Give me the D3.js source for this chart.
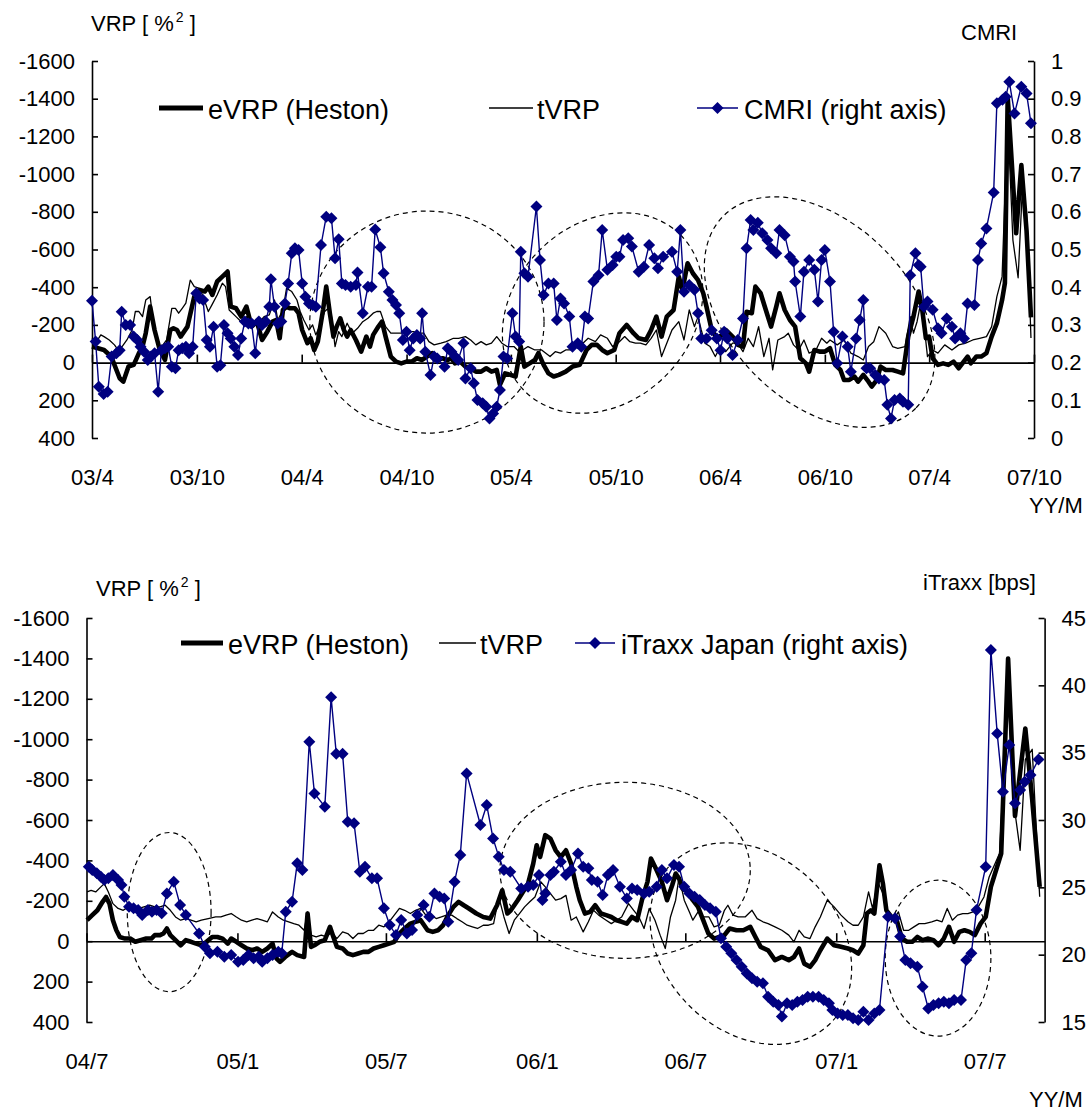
<!DOCTYPE html>
<html><head><meta charset="utf-8">
<script src="https://cdn.jsdelivr.net/npm/d3@7"></script>
<style>
body{margin:0;background:#fff}
text{font-family:"Liberation Sans",Arial,sans-serif;fill:#000}
</style>
</head><body>
<svg id="c" width="1091" height="1113"></svg>
<script>
// ---------- DATA (x = weeks since panel start date) ----------
const topTickLabels = ["03/4","03/10","04/4","04/10","05/4","05/10","06/4","06/10","07/4","07/10"];
const topTickDates  = ["2003-04-01","2003-10-01","2004-04-01","2004-10-01","2005-04-01","2005-10-01","2006-04-01","2006-10-01","2007-04-01","2007-10-01"];
const botTickLabels = ["04/7","05/1","05/7","06/1","06/7","07/1","07/7"];
const botTickDates  = ["2004-07-01","2005-01-01","2005-07-01","2006-01-01","2006-07-01","2007-01-01","2007-07-01"];
const vrpTicks = [-1600,-1400,-1200,-1000,-800,-600,-400,-200,0,200,400];
const cmriTicks = [0,0.1,0.2,0.3,0.4,0.5,0.6,0.7,0.8,0.9,1];
const itraxxTicks = [15,20,25,30,35,40,45];

const evrpTop = [[0,-85],[3,-67],[4.8,-32],[6.9,83],[7.8,101],[9.1,21],[10.4,12],[11.7,-50],[12.6,-85],[13.4,-156],[14.5,-297],[15.6,-173],[16.9,-67],[18.2,-14],[19.5,-173],[20.3,-182],[21.2,-173],[22.1,-138],[23.8,-191],[25.5,-350],[26.8,-385],[28.1,-377],[29,-403],[30,-359],[31.2,-430],[32.5,-456],[33.8,-483],[34.6,-297],[35.9,-288],[37.2,-244],[38.5,-297],[39.8,-191],[41.1,-217],[42.4,-120],[43.7,-164],[45,-217],[45.9,-226],[46.8,-129],[47.6,-279],[48.5,-297],[49.4,-288],[50.6,-288],[51.5,-262],[52.4,-173],[53.7,-103],[54.5,-129],[55.4,-67],[56.3,-111],[57.6,-279],[58.4,-403],[59.3,-262],[60.2,-138],[61,-191],[61.9,-235],[62.8,-173],[63.6,-138],[64.5,-173],[65.8,-120],[67.1,-58],[68.4,-138],[69.3,-85],[70.1,-147],[71.4,-191],[72.3,-217],[73.2,-138],[74.5,-32],[75.8,-5],[77.1,4],[78.4,-5],[79.7,-5],[81,-23],[82.3,-14],[83.5,-32],[84.8,-50],[86.1,-14],[87.4,-23],[88.7,-14],[89.6,-23],[90.5,4],[91.8,-5],[93.1,21],[94.4,30],[95.7,48],[97,48],[98.3,30],[99.6,48],[100.9,39],[101.7,118],[103,57],[104.3,65],[105.6,74],[106.9,-85],[107.8,21],[109.1,4],[110.4,-14],[111.3,-50],[112.6,12],[113.8,57],[115.1,74],[116.4,65],[118.1,48],[119.8,21],[121.6,12],[123.3,-67],[124.6,-94],[125.9,-94],[127.2,-67],[128.5,-50],[130.2,-67],[131.5,-156],[133.3,-200],[135,-156],[136.3,-129],[138.1,-120],[139.4,-173],[140.7,-244],[142,-138],[143.3,-244],[145,-279],[146.3,-456],[147.2,-385],[148.5,-527],[149.8,-474],[151.1,-438],[152.4,-368],[153.2,-297],[154.5,-173],[155.8,-129],[157.1,-147],[158,-173],[159.7,-138],[161,-94],[162.3,-85],[163.2,-270],[164.5,-262],[165.4,-403],[166.7,-368],[168,-279],[169.3,-191],[170.6,-297],[171.4,-368],[172.7,-279],[174,-226],[175.3,-191],[176.6,-23],[178,4],[178.8,48],[180.1,-67],[181.4,-58],[182.7,-58],[184,-76],[185.3,12],[186.6,39],[187.5,92],[188.8,92],[190.1,74],[191,101],[192.3,65],[193.6,101],[194.4,127],[195.7,92],[196.6,21],[197.9,39],[199.6,39],[200.9,48],[202.2,57],[203.5,-138],[204.8,-244],[206.1,-377],[207,-279],[207.9,-129],[208.7,-138],[209.6,-23],[210.9,12],[212.2,4],[213.5,12],[214.8,-5],[216.1,30],[217,4],[218.3,-32],[219.1,4],[220.5,-32],[221.7,-32],[223,-50],[224.3,-138],[225.6,-209],[226.9,-332],[227.6,-421],[228.3,-1410],[230.4,-686],[231.7,-1048],[233,-700],[234.1,-240]];

const tvrpTop = [[0,-129],[0.9,-103],[2.2,-147],[3,-138],[4.3,-120],[5.6,-94],[6.5,-67],[7.5,-85],[8.7,-120],[10,-173],[10.8,-271],[11.7,-271],[12.6,-244],[13.4,-332],[14.5,-350],[15.2,-226],[16,-156],[16.9,-85],[17.7,-94],[18.6,-120],[19.9,-288],[20.8,-288],[21.6,-262],[22.5,-288],[23.4,-315],[24.5,-438],[25.5,-403],[26.8,-394],[27.7,-350],[29,-271],[29.9,-306],[31.2,-359],[32.5,-421],[33.3,-403],[34.2,-279],[35.9,-244],[37.2,-217],[38.5,-244],[39.8,-209],[41.1,-200],[42.9,-244],[44.2,-253],[45.5,-332],[46.3,-226],[47.6,-279],[48.5,-394],[49.8,-377],[51.1,-332],[51.9,-271],[52.8,-226],[54.1,-173],[55,-200],[55.8,-147],[56.7,-191],[58,-271],[58.9,-288],[59.7,-244],[60.6,-85],[61.5,-164],[62.3,-138],[63.6,-209],[64.9,-156],[66.2,-182],[67.5,-217],[68.8,-235],[70.1,-262],[71,-271],[71.9,-271],[73.2,-191],[74.5,-156],[75.8,-156],[77.1,-156],[78.4,-164],[80.1,-164],[81.4,-156],[82.7,-156],[84,-111],[85.3,-94],[87,-103],[88.3,-111],[90.1,-129],[91.4,-129],[93.1,-138],[94.4,-120],[95.7,-94],[97,-111],[98.3,-94],[99.6,-103],[100.9,-138],[102.2,-103],[103.5,-85],[105.2,-85],[106.5,-58],[107.4,-67],[108.7,-85],[110.4,-67],[112.1,-67],[114.2,-32],[115.5,-58],[116.8,-50],[118.1,-67],[119.4,-67],[120.7,-85],[122.4,-103],[123.7,-129],[125.5,-111],[126.8,-147],[128.5,-129],[129.8,-85],[131.1,-103],[132.8,-138],[134.1,-111],[135.5,-103],[136.7,-103],[138.1,-94],[139.4,-129],[140.7,-173],[142,-32],[143.3,-103],[144.6,-173],[146.3,-217],[147.6,-120],[148.9,-279],[150.2,-191],[151.1,-244],[151.9,-173],[152.8,-103],[154.1,-85],[155.4,-32],[156.7,-85],[158,-58],[159.7,-103],[161,-103],[162.3,-58],[163.6,-129],[164.9,-85],[166.2,-191],[167.5,-32],[168.8,-129],[169.7,39],[171,-120],[172.7,-138],[173.6,-156],[174.9,-94],[176.2,-67],[177.5,-120],[178.8,-50],[180.5,-67],[181.9,-129],[183.2,-103],[184,-120],[185.8,-94],[187.5,-120],[189.2,-50],[191,-32],[192.3,-14],[193.6,-85],[194.9,-111],[196.2,-191],[197.9,-156],[199.6,-85],[200.9,-76],[202.7,-85],[204,-244],[204.8,-156],[205.7,-217],[206.6,-315],[207.4,-209],[208.3,-32],[209.6,-67],[210.9,-50],[212.6,-94],[214.4,-67],[216.1,-94],[217.8,-103],[219.6,-120],[221.3,-129],[223,-138],[224.3,-191],[225.6,-350],[226.9,-456],[228.3,-1300],[229.6,-650],[230.9,-450],[231.9,-900],[233,-800],[234.1,-130]];

const cmriTop = [[0,0.364],[0.9,0.256],[1.7,0.136],[2.9,0.117],[3.9,0.123],[4.9,0.216],[6.1,0.225],[6.9,0.233],[7.4,0.335],[8.4,0.300],[9.5,0.300],[10.4,0.269],[11.3,0.260],[12.1,0.242],[13,0.229],[13.9,0.207],[14.7,0.216],[15.6,0.225],[16.5,0.123],[17.3,0.233],[18.2,0.238],[19,0.242],[19.9,0.189],[20.8,0.185],[21.6,0.233],[22.5,0.238],[23.4,0.242],[24.2,0.225],[25.1,0.242],[26,0.384],[26.8,0.370],[27.7,0.366],[28.6,0.260],[29.4,0.242],[30.3,0.295],[31.2,0.189],[32,0.193],[32.9,0.300],[33.8,0.278],[34.6,0.264],[35.5,0.242],[36.4,0.220],[37.2,0.264],[38.1,0.309],[39,0.304],[39.8,0.304],[40.7,0.225],[41.6,0.309],[42.4,0.300],[43.3,0.309],[44.2,0.348],[44.6,0.421],[45.5,0.348],[46.3,0.304],[47.2,0.309],[48.1,0.357],[48.9,0.410],[49.8,0.490],[50.6,0.503],[51.5,0.499],[52.4,0.410],[53.2,0.375],[54.1,0.357],[55,0.353],[55.8,0.348],[57.1,0.512],[58.4,0.587],[59.7,0.583],[60.6,0.477],[61.5,0.527],[62.3,0.410],[63.2,0.406],[64.5,0.401],[65.8,0.406],[66.2,0.439],[67.5,0.331],[68.8,0.401],[69.7,0.401],[70.6,0.553],[71.9,0.506],[72.7,0.437],[74,0.388],[74.9,0.366],[75.8,0.353],[76.6,0.331],[77.5,0.260],[78.4,0.282],[79.2,0.233],[80.1,0.264],[81,0.273],[81.8,0.264],[82.3,0.331],[83.1,0.229],[84.4,0.167],[85.3,0.216],[86.1,0.211],[87.9,0.189],[88.7,0.238],[89.6,0.229],[90.5,0.216],[91.3,0.207],[92.6,0.251],[93.1,0.158],[94.4,0.185],[95.2,0.145],[96.1,0.101],[97.4,0.092],[98.3,0.083],[99.1,0.052],[100,0.065],[100.9,0.083],[101.7,0.127],[102.6,0.216],[103.5,0.211],[104.8,0.331],[105.6,0.269],[106.5,0.256],[106.9,0.494],[107.8,0.437],[108.7,0.428],[110.8,0.614],[111.7,0.472],[112.6,0.379],[113.8,0.410],[115.1,0.410],[115.9,0.313],[116.8,0.370],[117.7,0.357],[119,0.322],[119.8,0.242],[121.1,0.251],[122,0.242],[122.9,0.322],[123.7,0.317],[125,0.415],[126.3,0.432],[127.2,0.552],[128.5,0.446],[129.8,0.459],[130.7,0.481],[131.5,0.481],[132.4,0.525],[133.7,0.530],[134.6,0.508],[136.3,0.441],[137.6,0.454],[138.9,0.512],[140.2,0.477],[141.1,0.450],[142.4,0.481],[144.6,0.494],[145.9,0.441],[146.7,0.552],[147.6,0.388],[148.9,0.406],[150.2,0.393],[151.1,0.331],[151.9,0.264],[153.2,0.264],[154.5,0.286],[155.8,0.264],[156.7,0.233],[157.6,0.282],[158.4,0.264],[159.7,0.220],[161,0.260],[162.3,0.317],[163.2,0.503],[164.2,0.578],[164.9,0.552],[166,0.571],[167.1,0.543],[168.4,0.525],[169.3,0.503],[170.6,0.490],[171.4,0.552],[172.7,0.538],[174,0.481],[174.9,0.468],[175.3,0.415],[176.6,0.322],[177.5,0.441],[178.8,0.472],[180.1,0.446],[181,0.362],[181.9,0.472],[182.7,0.499],[184,0.415],[184.9,0.282],[185.8,0.198],[187.1,0.269],[188.4,0.242],[189.2,0.176],[190.5,0.264],[191.4,0.313],[192.3,0.366],[193.1,0.185],[194,0.185],[195.3,0.167],[196.2,0.158],[197.5,0.154],[198.3,0.088],[199.2,0.052],[200.1,0.101],[201.4,0.105],[202.2,0.096],[203.5,0.088],[204,0.432],[205.3,0.490],[206.1,0.459],[206.6,0.454],[207.4,0.348],[208.3,0.362],[209.6,0.340],[210.9,0.291],[211.8,0.278],[213.1,0.317],[214.4,0.295],[215.2,0.264],[216.5,0.278],[217.4,0.264],[218.3,0.357],[220,0.353],[220.9,0.472],[221.7,0.516],[223,0.556],[224.8,0.651],[225.6,0.888],[227,0.897],[227.8,0.905],[228.7,0.945],[230,0.861],[231.7,0.932],[233,0.914],[234.1,0.835]];

const evrpBot = [[0.1,-104],[1,-129],[1.9,-153],[2.8,-195],[3.4,-219],[4,-186],[4.6,-104],[5.2,-54],[5.8,-21],[6.7,-13],[7.6,-13],[8.5,3],[9.4,-5],[10.4,-13],[11.3,-13],[11.9,-30],[12.8,-30],[13.4,-38],[14,-63],[14.6,-30],[15.5,-5],[16.4,20],[17.3,-5],[18.2,3],[19.1,12],[20,20],[20.9,3],[21.9,-21],[22.8,-21],[23.7,-13],[24.6,12],[25.2,-13],[26.1,3],[27,20],[27.9,36],[28.8,45],[29.7,36],[30.6,53],[31.5,36],[32.4,12],[33.1,86],[33.7,102],[34.6,78],[35.8,53],[36.7,69],[37.9,78],[38.5,-137],[39.1,28],[39.7,20],[40.6,3],[41.5,-5],[42.4,-71],[43,-21],[43.6,28],[44.6,36],[45.5,61],[46.4,69],[47.3,61],[48.2,53],[49.1,53],[50,36],[50.9,28],[51.8,20],[52.7,12],[53.6,3],[54.5,-38],[55.4,-63],[56.4,-87],[57.3,-96],[58.2,-104],[59.4,-54],[60.3,-46],[61.2,-54],[62.1,-79],[63,-129],[63.9,-170],[64.8,-195],[65.7,-178],[66.6,-162],[67.9,-137],[69.1,-120],[70.3,-112],[71.5,-178],[72.4,-252],[73.3,-137],[73.9,-153],[75.1,-203],[76,-244],[76.9,-285],[77.8,-384],[78.4,-475],[79,-417],[79.9,-525],[80.8,-508],[81.7,-450],[82.6,-417],[83.5,-450],[84.4,-384],[85.3,-269],[85.9,-203],[86.8,-137],[87.7,-145],[88.6,-178],[89.6,-137],[90.5,-129],[91.4,-120],[92.3,-104],[93.2,-96],[94.1,-87],[95,-120],[95.9,-104],[96.8,-211],[97.7,-294],[98.3,-409],[99.3,-351],[100.2,-294],[101.1,-203],[102,-277],[102.6,-335],[103.2,-310],[103.8,-261],[104.7,-244],[105.6,-203],[106.5,-170],[107.4,-104],[108.3,-38],[109.3,-13],[110.2,-21],[111.1,-30],[112,-63],[113.2,-54],[114.4,-54],[115.6,-71],[116.5,-21],[117.4,28],[118.7,45],[119.9,94],[121.1,78],[122.3,94],[123.2,78],[124.1,36],[125,111],[126,127],[126.9,94],[127.8,45],[129,-13],[130.2,20],[131.4,28],[132.6,36],[133.5,45],[134.4,61],[135.3,20],[135.9,-137],[136.6,-153],[137.2,-137],[138.1,-376],[138.7,-285],[139.3,-153],[140.2,-120],[141.1,-104],[142,-13],[142.9,3],[143.8,3],[144.7,-21],[145.6,-5],[146.6,-13],[147.5,-5],[148.4,20],[149.3,-13],[150.2,-71],[151.1,3],[152,-46],[152.9,-54],[153.8,-46],[154.7,-30],[155.7,-87],[156.6,-120],[157.5,-269],[158.4,-351],[159.3,-434],[160.5,-1399],[161.7,-620],[163.5,-1053],[164.7,-700],[166,-269]];

const tvrpBot = [[0.1,-244],[0.8,-252],[1.6,-244],[2.5,-269],[3.1,-285],[3.8,-244],[4.6,-186],[5.5,-162],[6.4,-153],[7.3,-170],[8.2,-178],[9.1,-162],[10,-170],[11,-178],[11.9,-170],[12.8,-170],[13.7,-178],[14.6,-153],[15.5,-120],[16.4,-104],[17.3,-112],[18.2,-104],[19.1,-96],[20,-104],[21.2,-112],[22.5,-120],[23.4,-120],[24.3,-129],[25.2,-137],[26.1,-120],[27,-104],[27.9,-96],[28.8,-104],[29.7,-112],[30.6,-104],[31.5,-96],[32.4,-145],[33.4,-120],[34.3,-104],[35.2,-96],[36.1,-87],[37,-79],[37.9,-54],[38.5,-145],[39.1,-30],[40,-21],[40.9,-30],[41.8,-21],[42.7,-46],[43.6,-13],[44.6,-46],[45.5,-38],[46.4,-13],[47.3,-38],[48.2,-38],[49.1,-54],[50,-54],[50.9,-79],[51.8,-71],[52.7,-96],[53.6,-129],[54.5,-162],[55.4,-153],[56.4,-137],[57.3,-153],[58.2,-162],[59.1,-129],[60,-129],[60.9,-112],[61.8,-120],[62.7,-129],[63.6,-129],[64.5,-112],[65.4,-96],[66.3,-79],[67.2,-71],[68.1,-63],[69.1,-79],[70,-79],[70.9,-87],[71.8,-219],[72.7,-120],[73.6,-38],[74.5,-104],[75.4,-137],[76.3,-170],[77.2,-195],[78.1,-219],[79.1,-294],[79.9,-269],[80.8,-236],[81.7,-203],[82.6,-211],[83.5,-227],[84.4,-104],[85.3,-120],[86.5,-46],[87.4,-96],[88.3,-153],[89.2,-129],[90.5,-104],[91.4,-87],[92.3,-104],[93.2,-120],[94.4,-186],[95.3,-153],[96.2,-120],[97.1,-63],[98,-162],[99,-104],[99.9,-30],[100.8,36],[101.7,-120],[102.6,-203],[103.2,-318],[104.1,-203],[105,-145],[105.6,-104],[106.5,-145],[107.4,-120],[108.4,-120],[109.3,-71],[110.2,-79],[111.1,-153],[111.7,-178],[112.6,-129],[113.5,-120],[114.7,-120],[115.9,-153],[116.8,-112],[117.8,-96],[118.7,-87],[119.9,-71],[121.1,-54],[122.3,-30],[123.2,3],[124.1,-54],[125,-21],[126,-13],[126.9,-71],[127.8,-120],[129,-203],[130.2,-170],[131.4,-129],[132.6,-96],[133.5,-79],[134.4,-79],[135.3,-120],[136.2,-244],[136.9,-162],[137.8,-294],[138.7,-236],[139.6,-137],[140.5,-104],[141.4,-145],[142.3,-54],[143.2,-54],[144.1,-71],[145,-87],[146,-87],[147.2,-96],[148.1,-104],[149,-96],[149.9,-162],[150.8,-104],[151.7,-129],[152.6,-137],[153.5,-137],[154.4,-145],[155.3,-170],[156.3,-219],[157.2,-318],[158.1,-376],[159,-434],[160.5,-1250],[161.4,-700],[162.6,-450],[163.5,-900],[164.7,-950],[166,-220]];

const itraxxBot = [[0.4,26.53],[1,26.29],[1.8,26.04],[2.5,25.79],[3.1,25.54],[3.8,25.67],[4.6,25.91],[5.5,25.54],[6.1,25.17],[6.6,24.31],[7.4,23.56],[8.2,23.44],[9,23.32],[9.7,22.94],[10.7,23.32],[11.4,23.19],[12.2,23.32],[13.1,23.07],[14,24.55],[15.2,25.42],[16.3,23.69],[17.3,22.94],[19.6,21.58],[20.6,20.59],[21.5,20.1],[22.8,20.22],[24,19.85],[25.2,19.97],[26.4,19.48],[27.3,19.6],[28.2,19.97],[29.1,19.73],[30,19.85],[30.6,19.48],[31.5,19.73],[32.4,19.97],[33.4,20.22],[34,20.1],[34.7,23.19],[35.8,23.93],[36.7,26.78],[37.6,26.29],[38.8,35.81],[39.7,31.97],[41.5,30.99],[42.6,39.11],[43.5,34.92],[44.6,34.92],[45.5,29.87],[46.6,29.75],[47.6,26.16],[48.5,26.53],[49.7,25.67],[50.6,25.67],[51.8,23.44],[52.8,22.2],[53.9,21.46],[54.8,22.57],[55.8,21.58],[56.7,21.83],[57.6,22.94],[58.7,23.69],[59.7,22.82],[60.6,24.55],[61.5,24.31],[62.3,24.18],[63,22.45],[64.1,25.42],[65.1,27.4],[66.2,33.46],[68.6,29.63],[69.7,31.11],[70.8,28.63],[71.8,27.28],[72.7,26.29],[73.8,26.16],[75.7,24.92],[76.9,25.05],[77.8,25.17],[78.8,25.91],[79.4,24.06],[79.9,24.55],[80.8,25.91],[81.4,26.16],[82.6,26.9],[83.5,25.91],[84.4,26.29],[85.6,27.52],[86.5,26.53],[87.4,26.41],[88,25.54],[89,25.42],[89.9,24.43],[90.8,25.91],[91.7,26.29],[92.9,25.05],[94.1,24.18],[95,24.92],[95.9,24.8],[97.1,24.55],[98,24.67],[99.3,25.05],[100.2,26.29],[101.1,25.67],[102.3,26.66],[103.2,26.53],[104.1,25.05],[105,24.55],[105.9,24.31],[106.8,24.06],[107.7,23.69],[108.6,23.44],[109.6,23.19],[110.5,21.21],[111.4,20.59],[112.3,20.1],[113.2,19.6],[114.1,19.11],[115,18.61],[115.9,18.24],[116.8,17.99],[117.8,17.87],[118.7,16.88],[119.6,16.51],[120.5,16.26],[121.1,15.4],[122,16.39],[122.9,16.26],[123.8,16.51],[124.7,16.63],[125.6,16.88],[126.5,16.88],[127.5,16.88],[128.4,16.63],[129.3,16.39],[129.9,15.89],[130.8,15.64],[131.7,15.52],[132.6,15.52],[133.5,15.27],[134.4,15.15],[135.3,15.77],[136.2,15.15],[137.2,15.64],[138.1,15.89],[139.6,22.82],[140.8,22.7],[141.7,21.34],[142.6,19.6],[143.5,19.36],[144.7,19.11],[145.6,17.62],[146.6,16.01],[147.5,16.26],[148.4,16.39],[149.3,16.51],[150.2,16.39],[151.1,16.63],[152.3,16.63],[153.2,19.6],[154.1,20.1],[155,23.32],[156.6,26.53],[157.5,42.62],[158.6,36.43],[159.6,32.1],[160.7,35.57],[161.7,31.24],[162.6,32.23],[163.4,32.84],[164.4,33.34],[165.8,34.5]];

// dashed annotation ellipses: centre (week, VRP value), semi-axes (weeks, VRP units), rotation (deg)
const ellipsesTop = [
  {w:83.5, v:-215, rw:29.2, rv:589, rot:0},
  {w:127.3, v:-263, rw:27.5, rv:472, rot:-45},
  {w:181.4, v:-268, rw:33.9, rv:477, rot:45}
];
const ellipsesBot = [
  {w:14.4, v:-144, rw:7.3, rv:394, rot:0},
  {w:93.8, v:-351, rw:21.8, rv:436, rot:0},
  {w:115.7, v:12, rw:19.6, rv:433, rot:45},
  {w:148.3, v:84, rw:9.2, rv:386, rot:0}
];

// ---------- DRAWING ----------
const svg = d3.select("#c");
const DAY = 864e5;
const NAVY = "#000080";
const FONT = 22, LFONT = 27;
const FAM = '"Liberation Sans",Arial,sans-serif';
const diamond = "M0,-6L6,0L0,6L-6,0Z";

function panel(cfg){
  const g = svg.append("g");
  const t0 = new Date(cfg.start + "T00:00:00Z"), t1 = new Date(cfg.end + "T00:00:00Z");
  const x = d3.scaleUtc().domain([t0, t1]).range([cfg.x0, cfg.x1]);
  const xw = w => x(new Date(t0.getTime() + w * 7 * DAY));
  const y = d3.scaleLinear().domain([-1600, 400]).range([cfg.y0, cfg.y1]);
  const y2 = d3.scaleLinear().domain(cfg.rDomain).range([cfg.y1, cfg.y0]);

  // ellipses
  cfg.ellipses.forEach(e => {
    const cx = xw(e.w), cy = y(e.v);
    const rx = xw(e.w + e.rw) - cx, ry = Math.abs(y(e.v + e.rv) - cy);
    g.append("ellipse").attr("rx", rx).attr("ry", ry)
      .attr("transform", `translate(${cx},${cy}) rotate(${e.rot})`)
      .attr("fill", "none").attr("stroke", "#000").attr("stroke-width", 1.2)
      .attr("stroke-dasharray", "5,4");
  });

  // left axis
  const la = g.append("g").attr("transform", `translate(${cfg.x0},0)`)
    .call(d3.axisLeft(y).tickValues(vrpTicks).tickSize(-6).tickSizeOuter(0).tickPadding(17)
      .tickFormat(d => String(d)));
  // right axis
  const ra = g.append("g").attr("transform", `translate(${cfg.x1},0)`)
    .call(d3.axisRight(y2).tickValues(cfg.rTicks).tickSize(-6).tickSizeOuter(0).tickPadding(17)
      .tickFormat(d => String(d)));
  [la, ra].forEach(a => {
    a.selectAll("text").style("font-size", FONT + "px").attr("fill", "#000").style("font-family", FAM);
    a.selectAll("line,path").attr("stroke", "#000").attr("stroke-width", 1.6);
  });

  // zero line with upward ticks
  const dates = cfg.tickDates.map(d => new Date(d + "T00:00:00Z"));
  g.append("g").attr("transform", `translate(0,${y(0)})`)
    .call(d3.axisBottom(x).tickValues(dates).tickSize(-8).tickSizeOuter(0).tickFormat(""))
    .call(a => a.selectAll("line,path").attr("stroke", "#000").attr("stroke-width", 1.6));
  // x labels at the bottom
  g.append("g").attr("transform", `translate(0,${cfg.y1})`)
    .call(d3.axisBottom(x).tickValues(dates).tickSize(0).tickPadding(cfg.labelPad)
      .tickFormat((d, i) => cfg.tickLabels[i]))
    .call(a => { a.select(".domain").remove();
      a.selectAll("text").style("font-size", FONT + "px").attr("fill", "#000").style("font-family", FAM); });

  // series
  const line = d3.line().x(d => xw(d[0])).y(d => y(d[1]));
  const line2 = d3.line().x(d => xw(d[0])).y(d => y2(d[1]));
  g.append("path").datum(cfg.tvrp).attr("d", line).attr("fill", "none")
    .attr("stroke", "#000").attr("stroke-width", 1.3).attr("stroke-linejoin", "round");
  g.append("path").datum(cfg.evrp).attr("d", line).attr("fill", "none")
    .attr("stroke", "#000").attr("stroke-width", 4.6).attr("stroke-linejoin", "round");
  g.append("path").datum(cfg.rseries).attr("d", line2).attr("fill", "none")
    .attr("stroke", NAVY).attr("stroke-width", 1.4);
  g.append("g").selectAll("path").data(cfg.rseries).join("path")
    .attr("d", diamond).attr("fill", NAVY)
    .attr("transform", d => `translate(${xw(d[0])},${y2(d[1])})`);

  // axis titles
  const t = g.append("text").attr("x", cfg.leftTitle[0]).attr("y", cfg.leftTitle[1]).style("font-size", FONT + "px");
  t.append("tspan").text("VRP [ %");
  t.append("tspan").text("2").style("font-size", "14px").attr("dy", -9).attr("dx", 2);
  t.append("tspan").text(" ]").attr("dy", 9);
  g.append("text").attr("x", cfg.rightTitle[0]).attr("y", cfg.rightTitle[1]).style("font-size", FONT + "px").text(cfg.rightTitleText);
  g.append("text").attr("x", cfg.ymTitle[0]).attr("y", cfg.ymTitle[1]).style("font-size", FONT + "px").text("YY/M");

  // legend
  const L = cfg.legend;
  const lg = g.append("g").style("font-size", LFONT + "px");
  lg.append("line").attr("x1", L.x[0]).attr("x2", L.x[1]).attr("y1", L.y).attr("y2", L.y).attr("stroke", "#000").attr("stroke-width", 5);
  lg.append("text").attr("x", L.x[1] + 5).attr("y", L.y + 11).text("eVRP (Heston)");
  lg.append("line").attr("x1", L.x[2]).attr("x2", L.x[3]).attr("y1", L.y).attr("y2", L.y).attr("stroke", "#000").attr("stroke-width", 1.3);
  lg.append("text").attr("x", L.x[3] + 4).attr("y", L.y + 11).text("tVRP");
  lg.append("line").attr("x1", L.x[4]).attr("x2", L.x[5]).attr("y1", L.y).attr("y2", L.y).attr("stroke", NAVY).attr("stroke-width", 1.4);
  lg.append("path").attr("d", diamond).attr("fill", NAVY).attr("transform", `translate(${(L.x[4] + L.x[5]) / 2},${L.y})`);
  lg.append("text").attr("x", L.x[5] + 6).attr("y", L.y + 11).text(cfg.rightLegend);
}

panel({
  start: "2003-04-01", end: "2007-10-01",
  x0: 92, x1: 1034, y0: 61, y1: 438, labelPad: 31,
  rDomain: [0, 1], rTicks: cmriTicks,
  tickDates: topTickDates, tickLabels: topTickLabels,
  evrp: evrpTop, tvrp: tvrpTop, rseries: cmriTop,
  ellipses: ellipsesTop,
  leftTitle: [91, 31], rightTitle: [961, 40], rightTitleText: "CMRI", ymTitle: [1029, 513],
  legend: {y: 108, x: [159, 203, 489, 533, 697, 738]},
  rightLegend: "CMRI (right axis)"
});
panel({
  start: "2004-07-01", end: "2007-09-12",
  x0: 86.5, x1: 1044.6, y0: 618, y1: 1022, labelPad: 31,
  rDomain: [15, 45], rTicks: itraxxTicks,
  tickDates: botTickDates, tickLabels: botTickLabels,
  evrp: evrpBot, tvrp: tvrpBot, rseries: itraxxBot,
  ellipses: ellipsesBot,
  leftTitle: [96, 596], rightTitle: [923, 590], rightTitleText: "iTraxx [bps]", ymTitle: [1029, 1107],
  legend: {y: 643, x: [181, 223, 439, 476, 575, 615]},
  rightLegend: "iTraxx Japan (right axis)"
});
</script>
</body></html>
